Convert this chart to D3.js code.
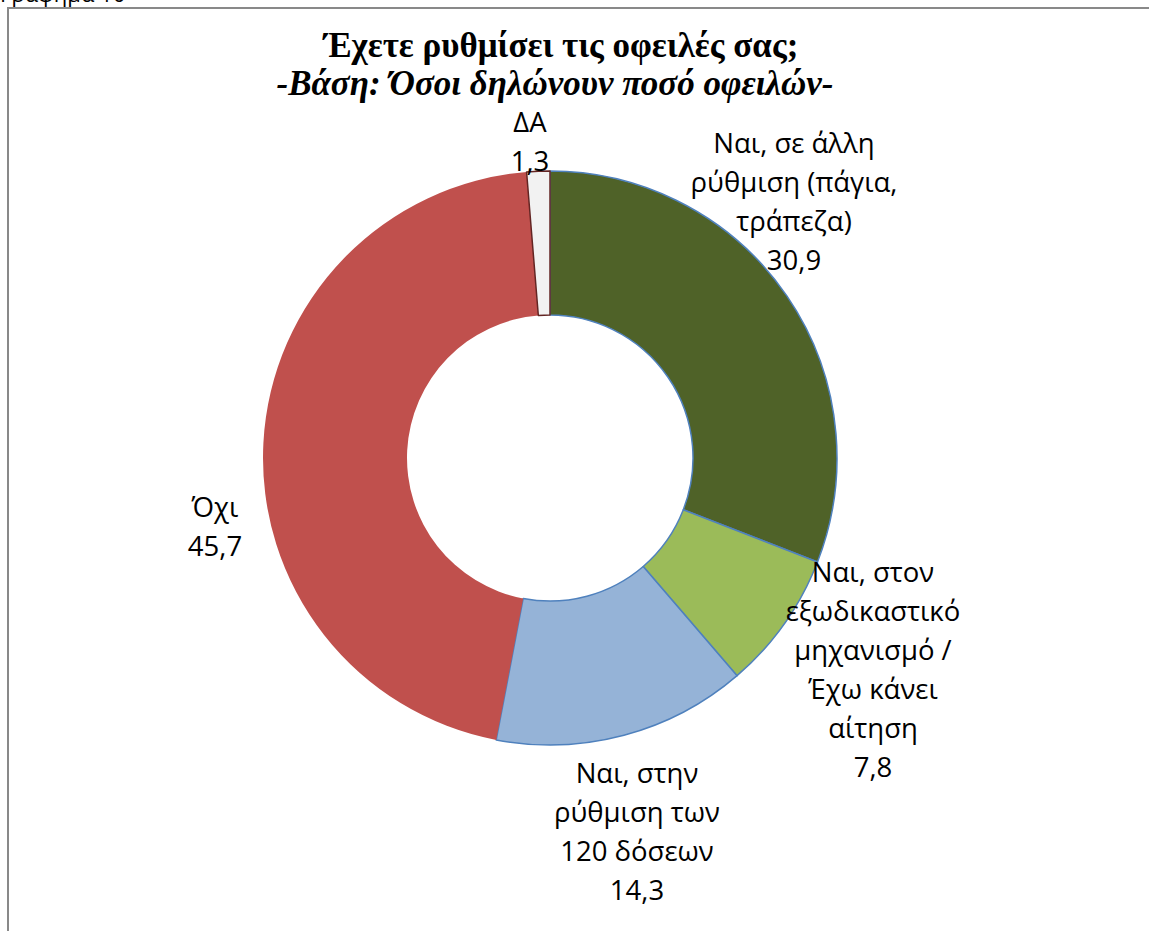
<!DOCTYPE html>
<html>
<head>
<meta charset="utf-8">
<script src="https://cdn.jsdelivr.net/npm/d3@7"></script>
<style>
  body { margin: 0; background: #fff; }
  svg { display: block; }
</style>
</head>
<body>
<svg width="1149" height="931"></svg>
<script>
// δεδομένα
var categories = [
  "Ναι, σε άλλη ρύθμιση (πάγια, τράπεζα)",
  "Ναι, στον εξωδικαστικό μηχανισμό / Έχω κάνει αίτηση",
  "Ναι, στην ρύθμιση των 120 δόσεων",
  "Όχι",
  "ΔΑ"
];
var values = [30.9, 7.8, 14.3, 45.7, 1.3];
var labelLines = [
  ["Ναι, σε άλλη", "ρύθμιση (πάγια,", "τράπεζα)"],
  ["Ναι, στον", "εξωδικαστικό", "μηχανισμό /", "Έχω κάνει", "αίτηση"],
  ["Ναι, στην", "ρύθμιση των", "120 δόσεων"],
  ["Όχι"],
  ["ΔΑ"]
];
var colors = ["#4F6228", "#9BBB59", "#95B3D7", "#C0504D", "#F2F2F2"];
var strokes = ["#4F81BD", "#4F81BD", "#4F81BD", "none", "#632523"];

var svg = d3.select("svg"),
  cx = 550,
  cy = 458,
  outerR = 287,
  innerR = 143;

// πλαίσιο
svg.append("rect")
  .attr("x", 8).attr("y", 8)
  .attr("width", 1300).attr("height", 1100)
  .attr("fill", "none")
  .attr("stroke", "#898989")
  .attr("stroke-width", 2);

svg.append("text")
  .attr("x", 0).attr("y", 2)
  .attr("font-family", "Open Sans, sans-serif")
  .attr("font-size", 22)
  .text("Γράφημα 10");

// τίτλος
var title = svg.append("text")
  .attr("text-anchor", "middle")
  .attr("font-family", "Liberation Serif, serif")
  .attr("font-weight", "bold")
  .attr("font-size", 35)
  .attr("fill", "#000");
title.append("tspan")
  .attr("x", 561).attr("y", 57)
  .text("Έχετε ρυθμίσει τις οφειλές σας;");
title.append("tspan")
  .attr("x", 555).attr("y", 95)
  .attr("font-style", "italic")
  .text("-Βάση: Όσοι δηλώνουν ποσό οφειλών-");

var pie = d3.pie().sort(null).value(function(d) { return d; });
var arc = d3.arc().innerRadius(innerR).outerRadius(outerR);

var g = svg.append("g").attr("transform", "translate(" + cx + "," + cy + ")");

g.selectAll("path")
  .data(pie(values))
  .enter().append("path")
  .attr("d", arc)
  .attr("fill", function(d, i) { return colors[i]; })
  .attr("stroke", function(d, i) { return strokes[i]; })
  .attr("stroke-width", 1.5)
  .attr("stroke-linejoin", "round");

// θέσεις ετικετών (κέντρο πρώτης γραμμής, σε σχέση με το κέντρο)
var labelPos = [[244, -305], [323, 124], [87, 325], [-335, 59], [-20, -326]];
var lineH = 39;

var labels = g.selectAll("text.lbl")
  .data(pie(values))
  .enter().append("text")
  .attr("class", "lbl")
  .attr("text-anchor", "middle")
  .attr("font-family", "Open Sans, sans-serif")
  .attr("font-size", 27.5)
  .attr("fill", "#000");

labels.each(function(d, i) {
  var t = d3.select(this);
  var lines = labelLines[i].concat([d3.format(".1f")(d.value).replace(".", ",")]);
  lines.forEach(function(s, j) {
    t.append("tspan")
      .attr("x", labelPos[i][0])
      .attr("y", labelPos[i][1] + j * lineH)
      .text(s);
  });
});
</script>
</body>
</html>
